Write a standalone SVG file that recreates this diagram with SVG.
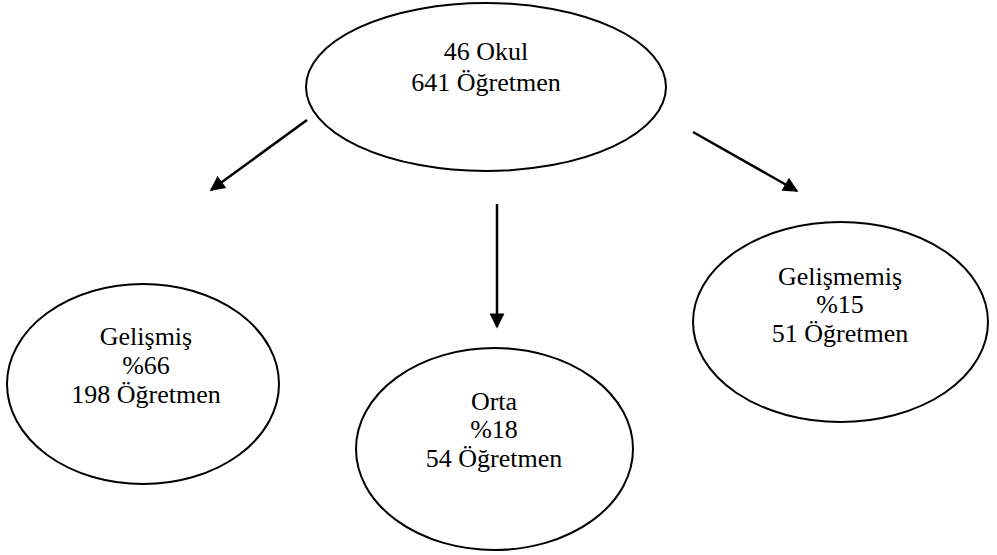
<svg xmlns="http://www.w3.org/2000/svg" width="997" height="555" viewBox="0 0 997 555">
<defs>
<style>
.node ellipse{fill:#fff;stroke:#000;stroke-width:2}
.node text{font-family:'Liberation Serif','Times New Roman','DejaVu Serif',serif;font-size:26px;fill:#000;text-anchor:middle}
.edge{stroke:#000;stroke-width:2.5;fill:none;marker-end:url(#arr)}
</style>
<marker id="arr" viewBox="0 0 10 10" refX="9" refY="5" markerWidth="6.5" markerHeight="6" orient="auto" markerUnits="strokeWidth">
<path d="M0,0 L10,5 L0,10 z" fill="#000"/>
</marker>
</defs>
<rect width="997" height="555" fill="#fff"/>
<g id="connectors">
<line class="edge" x1="307" y1="120" x2="211" y2="190"/>
<line class="edge" x1="497" y1="204" x2="497" y2="327"/>
<line class="edge" x1="693" y1="132" x2="797" y2="191"/>
</g>
<g id="n-top" class="node" font-family="Liberation Serif, Times New Roman, serif">
<ellipse cx="486" cy="87" rx="180" ry="84"/>
<text x="486" y="60">46 Okul</text>
<text x="486" y="91">641 Öğretmen</text>
</g>
<g id="n-left" class="node" font-family="Liberation Serif, Times New Roman, serif">
<ellipse cx="143" cy="384" rx="136" ry="100"/>
<text x="146" y="345">Gelişmiş</text>
<text x="146" y="374">%66</text>
<text x="146" y="403">198 Öğretmen</text>
</g>
<g id="n-mid" class="node" font-family="Liberation Serif, Times New Roman, serif">
<ellipse cx="494.5" cy="449" rx="138.5" ry="101"/>
<text x="494" y="410">Orta</text>
<text x="494" y="438">%18</text>
<text x="494" y="467">54 Öğretmen</text>
</g>
<g id="n-right" class="node" font-family="Liberation Serif, Times New Roman, serif">
<ellipse cx="840.5" cy="322" rx="147.5" ry="100"/>
<text x="840" y="285">Gelişmemiş</text>
<text x="840" y="313">%15</text>
<text x="840" y="342">51 Öğretmen</text>
</g>
</svg>
